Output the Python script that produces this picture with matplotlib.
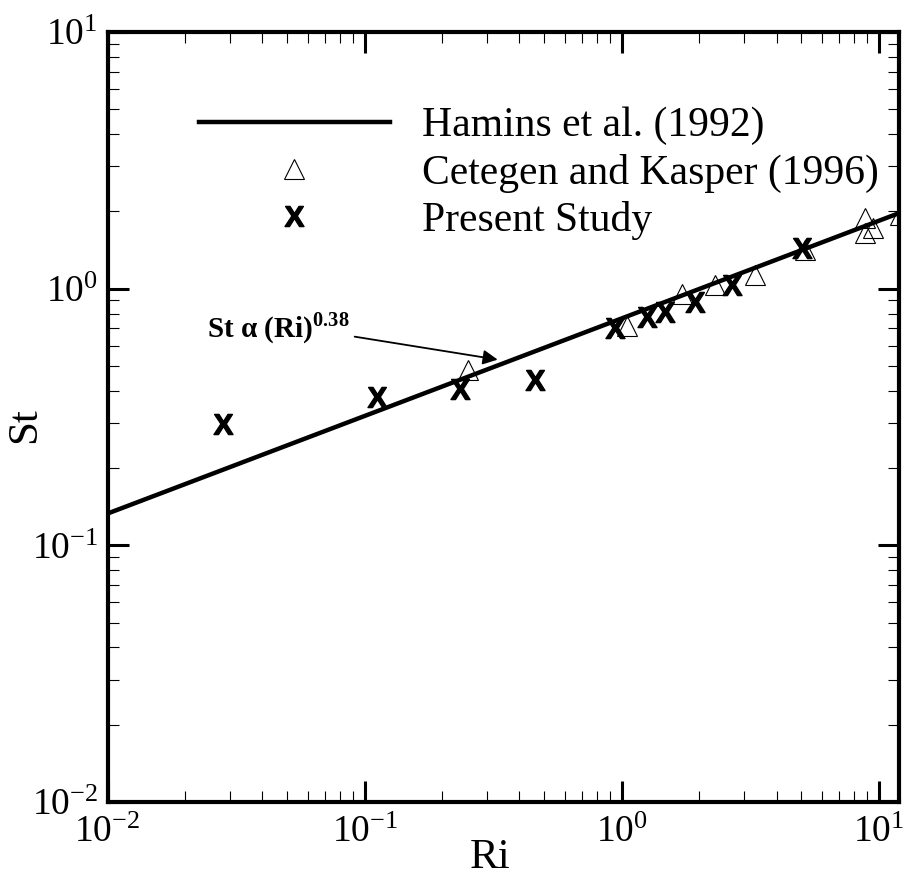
import matplotlib
matplotlib.use('Agg')
import matplotlib.pyplot as plt

plt.rcParams['font.family'] = 'Liberation Serif'
plt.rcParams['mathtext.fontset'] = 'custom'
plt.rcParams['mathtext.rm'] = 'Liberation Serif'
plt.rcParams['mathtext.bf'] = 'Liberation Serif:bold'
plt.rcParams['mathtext.sf'] = 'Liberation Sans:bold'

# Hamins et al. (1992) correlation, St ~ Ri^0.38 (end points)
hamins_ri = [0.01, 12.0]
hamins_st = [0.133, 1.97]

# Cetegen and Kasper (1996)
cetegen_ri = [0.252, 1.05, 1.71, 2.30, 3.29, 5.15, 8.82, 9.48, 8.82, 12.1]
cetegen_st = [0.484, 0.718, 0.95, 1.036, 1.13, 1.42, 1.89, 1.73, 1.65, 1.94]

# Present study
present_ri = [0.028, 0.112, 0.234, 0.458, 0.94, 1.25, 1.47, 1.92, 2.68, 5.01]
present_st = [0.296, 0.377, 0.405, 0.442, 0.705, 0.778, 0.814, 0.89, 1.036, 1.44]

fig = plt.figure(figsize=(9.12, 8.76), dpi=100)
ax = fig.add_axes([0.118, 0.0845, 0.868, 0.879])

ax.plot(hamins_ri, hamins_st, color='black', lw=3.2, label='Hamins et al. (1992)')
ax.plot(cetegen_ri, cetegen_st, ls='none', marker='^', ms=15, mfc='none',
        mec='black', mew=0.8, label='Cetegen and Kasper (1996)')
ax.plot(present_ri, present_st, ls='none', marker=r'$\mathsf{X}$', ms=14.5,
        color='black', label='Present Study')

ax.set_xscale('log')
ax.set_yscale('log')
ax.set_xlim(0.01, 12.0)
ax.set_ylim(0.01, 10)

ax.set_xlabel('Ri', fontsize=31)
ax.set_ylabel('St', fontsize=31)
ax.xaxis.set_label_coords(0.483, -0.048)
ax.yaxis.set_label_coords(-0.08, 0.49)

ax.tick_params(which='both', direction='in', top=True, right=True)
ax.tick_params(which='major', length=15, width=2.2, labelsize=27, pad=7)
ax.tick_params(axis='x', which='major', pad=10)
ax.tick_params(which='minor', length=8, width=0.8)
for s in ax.spines.values():
    s.set_linewidth(3)

# annotation for the correlation
ax.text(0.0243, 0.65, r'St α (Ri)$^{\mathbf{0.38}}$', fontsize=21,
        fontweight='bold', ha='left', va='baseline')
ax.annotate('', xy=(0.329, 0.529), xytext=(0.0914, 0.65),
            arrowprops=dict(arrowstyle='-|>', lw=1.3, color='black',
                            mutation_scale=22, shrinkA=0, shrinkB=0))

ax.legend(loc='upper left', bbox_to_anchor=(0.115, 0.903), frameon=False,
          fontsize=30, handlelength=4.6, handletextpad=0.75,
          labelspacing=0.2, borderpad=0, borderaxespad=0, numpoints=1)

fig.savefig('out.png', dpi=100)
